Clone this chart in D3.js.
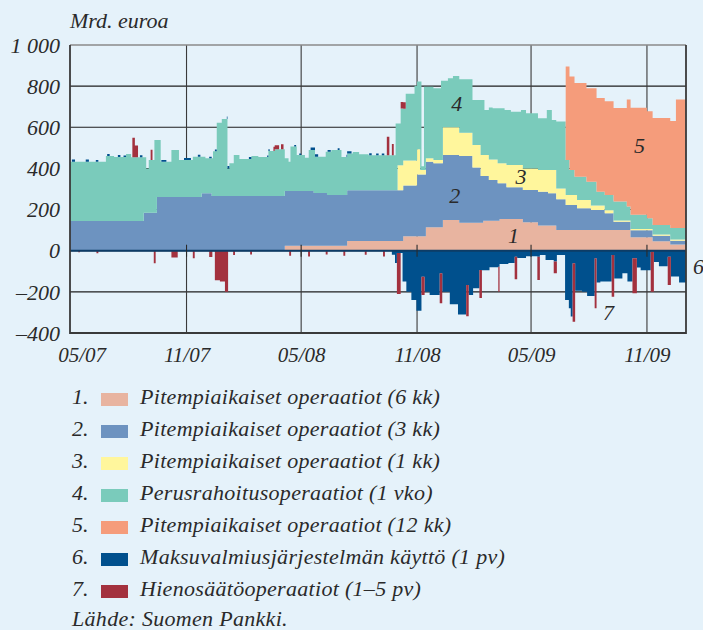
<!DOCTYPE html>
<html>
<head>
<meta charset="utf-8">
<script src="https://cdn.jsdelivr.net/npm/d3@7"></script>
<style>
    body { margin: 0; background: #e5f2fa; }
    svg { display: block; }
    text { font-family: 'Liberation Serif', serif; font-style: italic; fill: #2a2a2a; }
</style>
</head>
<body>
<svg id="chart"></svg>
<script>
// change points: [date, value], value holds until the next date (mrd. euroa)
const ltro6 = [
    ['2007-04-30', 0], ['2008-04-05', 24], ['2008-07-13', 47], ['2008-10-10', 70], ['2008-11-15', 114],
    ['2008-12-12', 149], ['2009-01-07', 136], ['2009-02-14', 146], ['2009-03-12', 154], ['2009-04-18', 138],
    ['2009-05-12', 122], ['2009-06-10', 101], ['2009-10-06', 66], ['2009-11-10', 46], ['2009-12-08', 30]
];
const ltro3 = [
    ['2007-04-30', 145], ['2007-08-25', 185], ['2007-09-15', 261], ['2007-11-25', 279], ['2007-12-11', 266],
    ['2008-05-21', 256], ['2008-06-11', 247], ['2008-11-01', 301], ['2008-11-15', 319], ['2008-11-27', 311],
    ['2008-12-12', 316], ['2009-01-07', 324], ['2009-01-28', 268], ['2009-02-10', 227], ['2009-02-14', 217],
    ['2009-02-23', 198], ['2009-03-09', 182], ['2009-03-12', 174], ['2009-03-23', 154], ['2009-04-18', 157],
    ['2009-05-12', 165], ['2009-05-28', 157], ['2009-06-10', 149], ['2009-06-25', 121], ['2009-07-13', 106],
    ['2009-08-04', 97], ['2009-08-26', 81], ['2009-09-09', 40], ['2009-10-06', 34], ['2009-11-10', 27],
    ['2009-12-08', 19]
];
const ltro1 = [
    ['2007-04-30', 0], ['2008-10-01', 122], ['2008-11-06', 21], ['2008-11-15', 16], ['2008-12-12', 135],
    ['2009-01-07', 114], ['2009-01-28', 110], ['2009-02-10', 102], ['2009-02-23', 100], ['2009-03-09', 97],
    ['2009-03-23', 109], ['2009-04-18', 105], ['2009-05-28', 113], ['2009-06-10', 53], ['2009-06-25', 49],
    ['2009-07-13', 39], ['2009-08-04', 22], ['2009-08-26', 15], ['2009-09-09', 6]
];
const mro = [
    ['2007-04-30', 288], ['2007-06-26', 315], ['2007-07-09', 310], ['2007-07-28', 325], ['2007-08-05', 309],
    ['2007-08-25', 269], ['2007-08-29', 215], ['2007-09-02', 256], ['2007-09-11', 353], ['2007-09-15', 277],
    ['2007-09-21', 172], ['2007-10-08', 229], ['2007-10-20', 180], ['2007-11-11', 196], ['2007-11-25', 178],
    ['2007-12-01', 170], ['2007-12-11', 183], ['2007-12-13', 218], ['2007-12-19', 356], ['2007-12-27', 374],
    ['2008-01-05', 134], ['2008-01-08', 159], ['2008-01-15', 199], ['2008-01-24', 180], ['2008-02-12', 194],
    ['2008-02-23', 189], ['2008-03-10', 219], ['2008-03-20', 227], ['2008-04-05', 159], ['2008-04-11', 143],
    ['2008-04-14', 216], ['2008-04-24', 175], ['2008-05-07', 162], ['2008-05-13', 200], ['2008-05-21', 210],
    ['2008-05-23', 177], ['2008-06-09', 201], ['2008-06-11', 210], ['2008-06-18', 219], ['2008-07-04', 184],
    ['2008-07-13', 178], ['2008-07-22', 186], ['2008-08-01', 175], ['2008-08-16', 170], ['2008-09-28', 324],
    ['2008-10-01', 202], ['2008-10-06', 275], ['2008-10-10', 251], ['2008-10-14', 324], ['2008-10-28', 363],
    ['2008-11-01', 329], ['2008-11-06', 430], ['2008-11-08', 18], ['2008-11-12', 405], ['2008-11-15', 348],
    ['2008-11-27', 349], ['2008-12-09', 385], ['2008-12-12', 226], ['2008-12-20', 238], ['2008-12-28', 249],
    ['2009-01-07', 259], ['2009-01-28', 219], ['2009-02-10', 268], ['2009-02-16', 219], ['2009-02-23', 252],
    ['2009-03-01', 248], ['2009-03-09', 267], ['2009-03-20', 259], ['2009-03-23', 267], ['2009-03-30', 259],
    ['2009-04-15', 267], ['2009-04-18', 284], ['2009-04-23', 268], ['2009-05-12', 252], ['2009-05-26', 292],
    ['2009-06-03', 244], ['2009-06-10', 325], ['2009-06-25', 170], ['2009-07-01', 121], ['2009-07-09', 89],
    ['2009-07-13', 114], ['2009-07-28', 89], ['2009-08-04', 115], ['2009-08-13', 67], ['2009-08-26', 74],
    ['2009-09-09', 92], ['2009-09-30', 68], ['2009-10-06', 69], ['2009-11-01', 52], ['2009-11-10', 46],
    ['2009-12-08', 55]
];
const ltro12 = [
    ['2007-04-30', 0], ['2009-06-25', 455], ['2009-09-30', 520], ['2009-12-17', 625]
];
const facility = [
    ['2007-04-30', 0],
    ['2007-05-03', 10], ['2007-05-08', 0], ['2007-05-25', 10], ['2007-05-30', 0],
    ['2007-06-10', 8], ['2007-06-14', 0], ['2007-06-28', 10], ['2007-07-02', 0],
    ['2007-07-15', 10], ['2007-07-19', 0], ['2007-07-24', 8], ['2007-07-28', 0],
    ['2007-08-19', 10], ['2007-08-23', 0], ['2007-09-22', 8], ['2007-09-30', 0],
    ['2007-10-28', 10], ['2007-11-08', 0], ['2007-11-19', 10], ['2007-11-23', 0],
    ['2007-12-07', 8], ['2007-12-11', 0], ['2007-12-16', 8], ['2007-12-19', 0],
    ['2008-01-04', 12], ['2008-01-08', 0], ['2008-02-08', 10], ['2008-02-12', 0],
    ['2008-03-08', 8], ['2008-03-12', 0], ['2008-04-20', 8], ['2008-04-23', 0],
    ['2008-04-28', 8], ['2008-05-01', 0], ['2008-05-16', 12], ['2008-05-28', 0],
    ['2008-06-12', 8], ['2008-06-17', 0], ['2008-06-28', 8], ['2008-07-01', 0],
    ['2008-07-12', 12], ['2008-07-20', 0], ['2008-08-17', 10], ['2008-08-21', 0],
    ['2008-08-28', 8], ['2008-09-01', 0], ['2008-09-06', 8], ['2008-09-10', 0],
    ['2008-09-22', -20], ['2008-09-27', -60], ['2008-09-30', -11], ['2008-10-09', -150], ['2008-10-15', -200],
    ['2008-10-23', -240], ['2008-10-31', -292], ['2008-11-08', -126], ['2008-11-13', -200], ['2008-11-21', -215],
    ['2008-12-07', -110], ['2008-12-11', -200], ['2008-12-23', -260], ['2009-01-05', -310], ['2009-01-18', -167],
    ['2009-01-22', -215], ['2009-01-29', -183], ['2009-02-08', -94], ['2009-02-12', -95], ['2009-02-24', -80],
    ['2009-03-10', -78], ['2009-03-12', -65], ['2009-03-26', -60], ['2009-04-05', -29], ['2009-04-09', -35],
    ['2009-04-23', -27], ['2009-05-11', -29], ['2009-05-15', -21], ['2009-05-24', -45], ['2009-06-06', -53],
    ['2009-06-11', -21], ['2009-06-24', -240], ['2009-06-30', -280], ['2009-07-03', -320], ['2009-07-06', -61],
    ['2009-07-10', -195], ['2009-07-21', -200], ['2009-07-29', -220], ['2009-08-10', -37], ['2009-08-13', -155],
    ['2009-08-19', -150], ['2009-09-06', -21], ['2009-09-10', -135], ['2009-09-23', -110], ['2009-10-01', -150],
    ['2009-10-09', -37], ['2009-10-16', -82], ['2009-10-22', -95], ['2009-11-07', -5], ['2009-11-12', -55],
    ['2009-11-20', -75], ['2009-12-04', -29], ['2009-12-09', -125], ['2009-12-22', -155]
];
const fineTuning = [
    ['2007-04-30', 0],
    ['2007-05-13', -8], ['2007-05-16', 0], ['2007-06-11', -12], ['2007-06-14', 0],
    ['2007-08-07', 95], ['2007-08-11', 58], ['2007-08-16', 0], ['2007-09-05', 50], ['2007-09-08', 0],
    ['2007-09-10', -61], ['2007-09-13', 0], ['2007-10-08', -33], ['2007-10-18', 0],
    ['2007-11-11', -37], ['2007-11-14', 0], ['2007-12-07', -30], ['2007-12-12', 0],
    ['2007-12-16', -143], ['2007-12-24', -150], ['2008-01-01', -200], ['2008-01-06', 0],
    ['2008-01-14', -21], ['2008-01-17', 0], ['2008-02-10', -19], ['2008-02-13', 0],
    ['2008-03-18', 20], ['2008-03-27', 0], ['2008-03-30', 25], ['2008-04-03', 0],
    ['2008-04-12', -24], ['2008-04-15', 0], ['2008-05-12', -28], ['2008-05-15', 0],
    ['2008-06-09', -19], ['2008-06-12', 0], ['2008-07-07', -24], ['2008-07-10', 0],
    ['2008-08-10', -20], ['2008-08-13', 0], ['2008-09-08', -28], ['2008-09-11', 0],
    ['2008-09-14', 90], ['2008-09-18', 0], ['2008-09-22', 55], ['2008-09-25', 0],
    ['2008-09-30', -200], ['2008-10-06', 32], ['2008-10-14', 0],
    ['2008-11-08', -89], ['2008-11-13', 0], ['2008-12-07', -145], ['2008-12-11', 0],
    ['2009-01-18', -151], ['2009-01-22', 0], ['2009-02-08', -136], ['2009-02-12', 0],
    ['2009-03-10', -122], ['2009-03-12', 0], ['2009-04-05', -110], ['2009-04-09', 0],
    ['2009-05-11', -113], ['2009-05-15', 0], ['2009-06-06', -57], ['2009-06-11', 0],
    ['2009-07-06', -284], ['2009-07-10', 0], ['2009-08-10', -243], ['2009-08-13', 0],
    ['2009-09-06', -203], ['2009-09-10', 0], ['2009-10-09', -170], ['2009-10-16', 0],
    ['2009-11-07', -195], ['2009-11-12', 0], ['2009-12-04', -138], ['2009-12-09', 0]
];

const seriesKeys = ['ltro6', 'ltro3', 'ltro1', 'mro', 'ltro12', 'facility', 'fineTuning'];
const seriesData = { ltro6, ltro3, ltro1, mro, ltro12, facility, fineTuning };
const legendLabels = [
    'Pitempiaikaiset operaatiot (6 kk)',
    'Pitempiaikaiset operaatiot (3 kk)',
    'Pitempiaikaiset operaatiot (1 kk)',
    'Perusrahoitusoperaatiot (1 vko)',
    'Pitempiaikaiset operaatiot (12 kk)',
    'Maksuvalmiusjärjestelmän käyttö (1 pv)',
    'Hienosäätöoperaatiot (1–5 pv)'
];
const yTicks = [-400, -200, 0, 200, 400, 600, 800, 1000];
const yTickLabels = ['–400', '–200', '0', '200', '400', '600', '800', '1 000'];
const xTicks = ['2007-05-01', '2007-11-01', '2008-05-01', '2008-11-01', '2009-05-01', '2009-11-01'];
const xTickLabels = ['05/07', '11/07', '05/08', '11/08', '05/09', '11/09'];
const dateRange = ['2007-04-30', '2010-01-02'];

class LiquidityChart {
    constructor(config) {
        this.config = {
            parent: config.parent,
            width: 703,
            height: 630,
            margin: { top: 45, right: 17, bottom: 297, left: 70 },
            fontSize: 22,
            colors: ['#e8b4a0', '#6d93c0', '#fff69c', '#7acbbb', '#f59c7b', '#00508d', '#a3313e'],
            // area numbers placed in data space
            areaLabels: [
                { text: '1', date: '2009-04-03', value: 76 },
                { text: '2', date: '2008-12-31', value: 271 },
                { text: '3', date: '2009-04-15', value: 360 },
                { text: '4', date: '2009-01-03', value: 717 },
                { text: '5', date: '2009-10-20', value: 514 },
                { text: '7', date: '2009-09-01', value: -297 }
            ]
        };
        this.init();
    }

    init() {
        let self = this;
        const c = self.config;
        const parse = d3.utcParse('%Y-%m-%d');

        self.svg = d3.select(c.parent)
            .attr('width', c.width)
            .attr('height', c.height);

        self.inner_width = c.width - c.margin.left - c.margin.right;
        self.inner_height = c.height - c.margin.top - c.margin.bottom;

        self.xscale = d3.scaleUtc()
            .domain(dateRange.map(parse))
            .range([0, self.inner_width]);

        self.yscale = d3.scaleLinear()
            .domain([-400, 1000])
            .range([self.inner_height, 0]);

        self.chart = self.svg.append('g')
            .attr('transform', `translate(${c.margin.left}, ${c.margin.top})`);

        // step table from the change points
        let dates = new Set([dateRange[1]]);
        seriesKeys.forEach(k => seriesData[k].forEach(p => dates.add(p[0])));
        dates = Array.from(dates).sort();
        self.rows = dates.map(ds => {
            const row = { date: parse(ds) };
            seriesKeys.forEach(k => {
                let v = 0;
                seriesData[k].forEach(p => { if (p[0] <= ds) v = p[1]; });
                row[k] = v;
            });
            return row;
        });
        self.parse = parse;
    }

    render() {
        let self = this;
        const c = self.config;
        const x = self.xscale, y = self.yscale;
        const W = self.inner_width, H = self.inner_height;
        const fs = `${c.fontSize}px`;

        // grid
        self.chart.append('g')
            .selectAll('line')
            .data(yTicks.filter(d => d > -400 && d < 1000))
            .join('line')
            .attr('x1', 0).attr('x2', W)
            .attr('y1', d => y(d)).attr('y2', d => y(d))
            .attr('stroke', '#1e1e1e').attr('stroke-width', 1.1);

        self.chart.append('g')
            .selectAll('line')
            .data(xTicks.slice(1).map(self.parse))
            .join('line')
            .attr('x1', d => x(d)).attr('x2', d => x(d))
            .attr('y1', 0).attr('y2', H)
            .attr('stroke', '#3a3a3a').attr('stroke-width', 1.1);

        const stacked = d3.stack()
            .keys(seriesKeys)
            .offset(d3.stackOffsetDiverging)(self.rows);

        const area = d3.area()
            .curve(d3.curveStepAfter)
            .x(d => x(d.data.date))
            .y0(d => y(d[0]))
            .y1(d => y(d[1]));

        self.chart.append('g')
            .selectAll('path')
            .data(stacked)
            .join('path')
            .attr('fill', (d, i) => c.colors[i])
            .attr('d', area);

        // zero line and its ticks
        self.chart.append('line')
            .attr('x1', 0).attr('x2', W)
            .attr('y1', y(0)).attr('y2', y(0))
            .attr('stroke', '#0d3c66').attr('stroke-width', 2);

        self.chart.append('g')
            .selectAll('line')
            .data(xTicks.slice(1).map(self.parse))
            .join('line')
            .attr('x1', d => x(d)).attr('x2', d => x(d))
            .attr('y1', y(0) - 6).attr('y2', y(0) + 6)
            .attr('stroke', '#2a2a2a').attr('stroke-width', 1.1);

        // frame
        self.chart.append('line')
            .attr('x1', 0).attr('x2', W).attr('y1', 0).attr('y2', 0)
            .attr('stroke', '#8a8a8a').attr('stroke-width', 1.5);
        self.chart.append('path')
            .attr('d', `M0,0V${H}H${W}V0`)
            .attr('fill', 'none')
            .attr('stroke', '#3a3a3a').attr('stroke-width', 1.8);

        // axes
        const yaxis = d3.axisLeft(y)
            .tickValues(yTicks)
            .tickSize(0)
            .tickPadding(10)
            .tickFormat((d, i) => yTickLabels[i]);
        const yg = self.chart.append('g').call(yaxis);
        yg.attr('font-family', null).attr('font-size', null);
        yg.select('.domain').remove();
        yg.selectAll('text')
            .style('font-size', fs)
            .attr('dy', '0.33em');

        const xaxis = d3.axisBottom(x)
            .tickValues(xTicks.map(self.parse))
            .tickSize(0)
            .tickPadding(14)
            .tickFormat((d, i) => xTickLabels[i]);
        const xg = self.chart.append('g')
            .attr('transform', `translate(0, ${H})`)
            .call(xaxis);
        xg.attr('font-family', null).attr('font-size', null);
        xg.select('.domain').remove();
        xg.selectAll('text')
            .style('font-size', '21px')
            .attr('dx', (d, i) => i === 0 ? 11 : 0);

        self.svg.append('text')
            .attr('x', c.margin.left)
            .attr('y', 28)
            .style('font-size', fs)
            .text('Mrd. euroa');

        // area numbers
        self.chart.append('g')
            .selectAll('text')
            .data(c.areaLabels)
            .join('text')
            .attr('x', d => x(self.parse(d.date)))
            .attr('y', d => y(d.value))
            .attr('dy', '0.35em')
            .attr('text-anchor', 'middle')
            .style('font-size', fs)
            .text(d => d.text);

        self.chart.append('text')
            .attr('x', W + 7)
            .attr('y', y(-75))
            .attr('dy', '0.35em')
            .style('font-size', fs)
            .text('6');

        // legend
        const legend = self.svg.append('g')
            .attr('transform', 'translate(72, 404)');
        const items = legend.selectAll('g')
            .data(legendLabels)
            .join('g')
            .attr('transform', (d, i) => `translate(0, ${i * 32})`);
        items.append('text')
            .style('font-size', fs)
            .text((d, i) => `${i + 1}.`);
        items.append('rect')
            .attr('x', 29).attr('y', -11)
            .attr('width', 27).attr('height', 13)
            .attr('fill', (d, i) => c.colors[i]);
        items.append('text')
            .attr('x', 68)
            .style('font-size', fs)
            .style('letter-spacing', '0.3px')
            .text(d => d);

        self.svg.append('text')
            .attr('x', 72)
            .attr('y', 626)
            .style('font-size', fs)
            .style('letter-spacing', '0.3px')
            .text('Lähde: Suomen Pankki.');
    }
}

const chart = new LiquidityChart({ parent: '#chart' });
chart.render();
</script>
</body>
</html>
